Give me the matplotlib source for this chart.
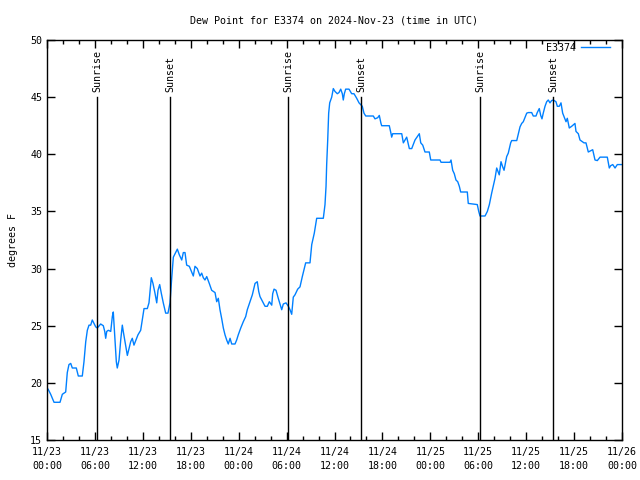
#!/usr/bin/env python3
import numpy as np
import matplotlib
matplotlib.use('Agg')
import matplotlib.pyplot as plt
from matplotlib.ticker import MultipleLocator

plt.rcParams['font.family'] = ['DejaVu Sans Mono']
FS = 7.2

# Hours since 2024-11-23 00:00 UTC, dew point in degrees F
hours = [
    0.0, 0.13, 0.46, 0.88, 1.63, 1.92, 2.34, 2.54, 2.75, 2.97, 3.17, 3.67, 3.92, 4.42,
    4.63, 4.85, 5.05, 5.26, 5.47, 5.67, 5.89, 6.10, 6.30, 6.72, 7.05, 7.23, 7.35, 7.48,
    7.68, 7.98, 8.18, 8.30, 8.39, 8.51, 8.68, 8.80, 9.02, 9.23, 9.43, 9.55, 9.77, 10.06,
    10.48, 10.68, 10.89, 11.39, 11.73, 11.93, 12.15, 12.56, 12.77, 13.06, 13.27, 13.52,
    13.74, 13.90, 14.11, 14.31, 14.56, 14.86, 15.15, 15.40, 15.61, 15.82, 16.03, 16.32,
    16.57, 16.87, 17.07, 17.28, 17.49, 17.82, 18.12, 18.32, 18.53, 18.82, 19.16, 19.37,
    19.57, 19.78, 20.00, 20.32, 20.62, 21.04, 21.25, 21.45, 21.66, 21.88, 22.08, 22.29,
    22.50, 22.70, 22.92, 23.13, 23.54, 23.75, 23.95, 24.26, 24.58, 24.88, 25.08, 25.42,
    25.71, 26.05, 26.33, 26.51, 26.67, 27.01, 27.30, 27.59, 27.84, 28.14, 28.26, 28.43,
    28.68, 28.96, 29.39, 29.59, 29.93, 30.22, 30.43, 30.64, 30.84, 31.05, 31.39, 31.68,
    31.97, 32.22, 32.39, 32.93, 33.15, 33.47, 33.77, 34.60, 34.81, 34.94, 35.02, 35.15,
    35.27, 35.40, 35.65, 35.85, 36.06, 36.35, 36.56, 36.78, 36.98, 37.10, 37.23, 37.40,
    37.82, 38.15, 38.44, 38.78, 39.07, 39.48, 39.69, 39.91, 40.86, 41.07, 41.41, 41.61,
    41.82, 41.91, 42.86, 43.08, 43.16, 43.29, 44.42, 44.62, 45.04, 45.37, 45.67, 46.08,
    46.62, 46.80, 47.05, 47.33, 47.87, 48.05, 49.21, 49.34, 50.46, 50.59, 50.80, 51.00,
    51.21, 51.43, 51.63, 51.80, 52.63, 52.75, 53.88, 54.06, 54.22, 54.85, 55.14, 55.39,
    55.68, 55.88, 56.10, 56.31, 56.63, 56.85, 57.06, 57.23, 57.56, 57.76, 58.06, 58.19,
    58.82, 59.02, 59.23, 59.44, 59.64, 60.07, 60.27, 60.69, 60.89, 61.23, 61.39, 61.64,
    61.82, 61.98, 62.14, 62.36, 62.57, 62.77, 62.98, 63.19, 63.40, 63.73, 63.90, 64.15,
    64.36, 64.57, 64.74, 64.99, 65.15, 65.40, 65.70, 66.11, 66.24, 66.53, 66.74, 67.24,
    67.49, 67.78, 68.33, 68.62, 68.91, 69.25, 70.16, 70.41, 70.58, 70.84, 71.13, 71.41,
    71.96,
]
dewpoint = [
    19.5, 19.46, 19.0, 18.3, 18.3, 19.0, 19.2, 20.9, 21.6, 21.7, 21.3, 21.3, 20.6, 20.6,
    21.85, 23.6, 24.6, 25.05, 25.05, 25.5, 25.2, 24.9, 24.8, 25.15, 25.0, 24.5, 23.9, 24.5,
    24.6, 24.5, 25.8, 26.2, 25.2, 23.75, 21.85, 21.3, 22.0, 23.75, 25.05, 24.5, 23.6, 22.4,
    23.6, 23.9, 23.3, 24.2, 24.6, 25.5, 26.5, 26.5, 27.0, 29.2, 28.7, 27.85,
    27.0, 28.1, 28.6, 27.85, 27.0, 26.1, 26.1, 27.0, 29.1, 31.0, 31.3, 31.7,
    31.2, 30.75, 31.4, 31.4, 30.3, 30.2, 29.7, 29.35, 30.2, 30.0, 29.35, 29.6,
    29.2, 29.0, 29.3, 28.7, 28.1, 27.9, 27.1, 27.4, 26.4, 25.6, 24.8, 24.2,
    23.75, 23.4, 23.9, 23.4, 23.4, 23.75, 24.2, 24.8, 25.35, 25.8, 26.4, 27.1,
    27.7, 28.7, 28.85, 28.0, 27.55, 27.1, 26.7, 26.7, 27.1, 26.8, 27.8, 28.2,
    28.1, 27.4, 26.4, 26.9, 27.0, 26.7, 26.4, 26.0, 27.5, 27.7, 28.2, 28.4,
    29.3, 30.0, 30.5, 30.5, 32.1, 33.1, 34.4, 34.4, 35.6, 37.2, 39.1, 41.25,
    43.6, 44.5, 45.0, 45.75, 45.5, 45.3, 45.4, 45.7, 45.3, 44.75, 45.3, 45.7,
    45.7, 45.3, 45.3, 44.9, 44.5, 44.2, 43.6, 43.35, 43.35, 43.1, 43.2, 43.4,
    42.7, 42.5, 42.5, 41.8, 41.5, 41.8, 41.8, 41.0, 41.5, 40.5, 40.5, 41.25,
    41.8, 41.0, 40.8, 40.2, 40.2, 39.5, 39.5, 39.3, 39.3, 39.5, 38.6, 38.3,
    37.75, 37.6, 37.2, 36.7, 36.7, 35.7, 35.6, 35.0, 34.6, 34.6, 35.0, 35.6,
    36.6, 37.2, 37.9, 38.8, 38.2, 39.35, 38.9, 38.6, 39.8, 40.1, 41.0, 41.2,
    41.2, 41.8, 42.4, 42.7, 42.85, 43.6, 43.65, 43.65, 43.35, 43.35, 43.65, 44.0,
    43.4, 43.1, 43.6, 44.2, 44.6, 44.75, 44.5, 44.7, 44.75, 44.6, 44.2, 44.2,
    44.5, 43.6, 43.3, 42.85, 43.15, 42.3, 42.45, 42.7, 42.0, 41.8, 41.25, 41.0,
    41.0, 40.2, 40.4, 39.5, 39.45, 39.75, 39.75, 38.8, 39.0, 39.1, 38.8, 39.1,
    39.1,
]

# Sun events, hours since start
event_hours = [6.26, 15.40, 30.18, 39.32, 54.22, 63.36]
event_names = ["Sunrise", "Sunset", "Sunrise", "Sunset", "Sunrise", "Sunset"]

tick_hours = list(range(0, 73, 6))
tick_labels = ["11/23\n00:00", "11/23\n06:00", "11/23\n12:00", "11/23\n18:00",
               "11/24\n00:00", "11/24\n06:00", "11/24\n12:00", "11/24\n18:00",
               "11/25\n00:00", "11/25\n06:00", "11/25\n12:00", "11/25\n18:00",
               "11/26\n00:00"]

fig = plt.figure(figsize=(6.4, 4.8), dpi=100)
ax = fig.add_axes([47 / 640, 40 / 480, 575 / 640, 400 / 480])

ax.plot(hours, dewpoint, color='#0080ff', lw=1.0, label='E3374')

for h, name in zip(event_hours, event_names):
    ax.plot([h, h], [15, 45], color='black', lw=1.0)
    ax.text(h, 45.45, name, rotation=90, ha='center', va='bottom', fontsize=FS)

ax.set_xlim(0, 72)
ax.set_ylim(15, 50)
ax.set_xticks(tick_hours)
ax.set_xticklabels(tick_labels, linespacing=1.5)
ax.xaxis.set_minor_locator(MultipleLocator(2))
ax.yaxis.set_major_locator(MultipleLocator(5))
ax.tick_params(which='both', direction='in', top=True, right=True, labelsize=FS,
               width=1.0, color='black')
ax.tick_params(which='major', length=6)
ax.tick_params(which='minor', length=3)
ax.tick_params(axis='x', pad=5)
for s in ax.spines.values():
    s.set_linewidth(1.0)

ax.set_ylabel("degrees F", fontsize=FS, labelpad=9)
ax.set_title("Dew Point for E3374 on 2024-Nov-23 (time in UTC)",
             fontsize=FS, pad=12)

ax.legend(loc='upper right', bbox_to_anchor=(1 - 12 / 575, 1 - 3 / 400),
          frameon=False, fontsize=FS, handlelength=2.9, markerfirst=False,
          borderaxespad=0, borderpad=0, handletextpad=0.5)

fig.savefig('out.png', dpi=100)
